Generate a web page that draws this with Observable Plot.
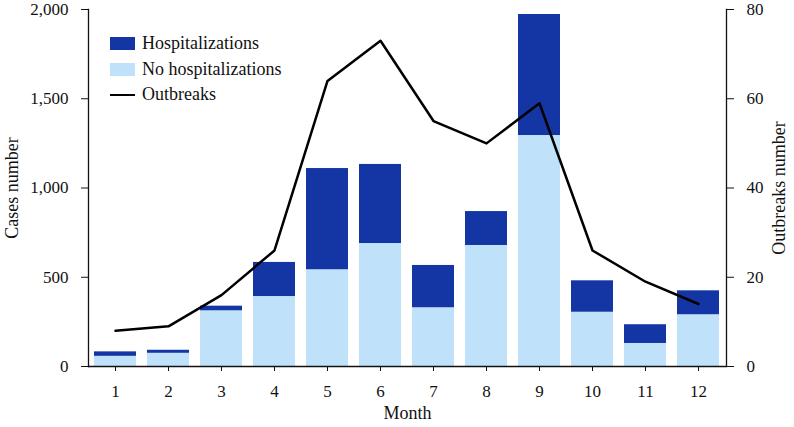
<!DOCTYPE html>
<html>
<head>
<meta charset="utf-8">
<script src="https://cdn.jsdelivr.net/npm/d3@7"></script>
<script src="https://cdn.jsdelivr.net/npm/@observablehq/plot@0.6"></script>
<style>
  body { margin: 0; background: #fff; }
  #chart { position: relative; width: 794px; height: 427px; font-family: "Liberation Serif", "Times New Roman", serif; }
  .legend { position: absolute; left: 110px; top: 31px; font-size: 18px; color: #111; }
  .legend .row { display: flex; align-items: center; height: 25.5px; }
  .legend .sw { width: 25px; height: 13px; margin-right: 7px; }
  .legend .ln { width: 25px; height: 0; border-top: 2.5px solid #000; margin-right: 7px; }
</style>
</head>
<body>
<div id="chart"></div>
<script>
const months = [1, 2, 3, 4, 5, 6, 7, 8, 9, 10, 11, 12];
const noHospitalizations = [57, 74, 312, 392, 542, 689, 329, 678, 1294, 304, 129, 290];
const totalCases = [82, 91, 338, 583, 1109, 1132, 566, 868, 1972, 480, 234, 424];
const outbreaks = [8, 9, 16, 26, 64, 73, 55, 50, 59, 26, 19, 14];
const leftTicks = [0, 500, 1000, 1500, 2000];
const rightTicks = [0, 20, 40, 60, 80];

const darkBlue = "#1336a4";
const lightBlue = "#bfe2fa";
const ratio = 2000 / 80; // right axis maps 0–80 onto 0–2000

const bars = [];
months.forEach((m, i) => {
  bars.push({month: m, type: "No hospitalizations", value: noHospitalizations[i]});
  bars.push({month: m, type: "Hospitalizations", value: totalCases[i] - noHospitalizations[i]});
});
const line = months.map((m, i) => ({month: m, value: outbreaks[i]}));

const fmt = d3.format(",");

const plot = Plot.plot({
  width: 794,
  height: 427,
  marginLeft: 88,
  marginRight: 68,
  marginTop: 9,
  marginBottom: 61,
  style: {fontFamily: '"Liberation Serif", "Times New Roman", serif', fontSize: "17px", color: "#111", background: "white"},
  x: {type: "band", domain: months, paddingInner: 0.2, paddingOuter: 0.1},
  y: {domain: [0, 2000]},
  color: {domain: ["Hospitalizations", "No hospitalizations"], range: [darkBlue, lightBlue]},
  marks: [
    Plot.barY(bars, {x: "month", y: "value", fill: "type", order: ["No hospitalizations", "Hospitalizations"]}),
    Plot.lineY(line, {x: "month", y: d => d.value * ratio, stroke: "#000", strokeWidth: 2.5}),
    Plot.frame({anchor: "left", stroke: "#111", strokeWidth: 1.3}),
    Plot.frame({anchor: "right", stroke: "#111", strokeWidth: 1.3}),
    Plot.ruleY([0], {stroke: "#111", strokeWidth: 1.3}),
    Plot.axisX({tickSize: 5, tickPadding: 13, label: null, fontSize: 17}),
    Plot.axisY({anchor: "left", ticks: leftTicks, tickFormat: fmt, tickSize: 7, tickPadding: 13, label: null, fontSize: 17}),
    Plot.axisY({anchor: "right", ticks: rightTicks.map(v => v * ratio), tickFormat: d => d / ratio, tickSize: 7, tickPadding: 13, label: null, fontSize: 17}),
    Plot.text(["Month"], {frameAnchor: "bottom", dy: 52, fontSize: 18, fill: "#111", textAnchor: "middle"}),
    Plot.text(["Cases number"], {frameAnchor: "left", rotate: -90, dx: -76, fontSize: 18, fill: "#111", textAnchor: "middle", lineAnchor: "middle"}),
    Plot.text(["Outbreaks number"], {frameAnchor: "right", rotate: -90, dx: 53, fontSize: 18, fill: "#111", textAnchor: "middle", lineAnchor: "middle"})
  ]
});

const chart = document.getElementById("chart");
chart.appendChild(plot);

const legend = document.createElement("div");
legend.className = "legend";
legend.innerHTML = `
  <div class="row"><div class="sw" style="background:${darkBlue}"></div>Hospitalizations</div>
  <div class="row"><div class="sw" style="background:${lightBlue}"></div>No hospitalizations</div>
  <div class="row"><div class="ln"></div>Outbreaks</div>`;
chart.appendChild(legend);
</script>
</body>
</html>
